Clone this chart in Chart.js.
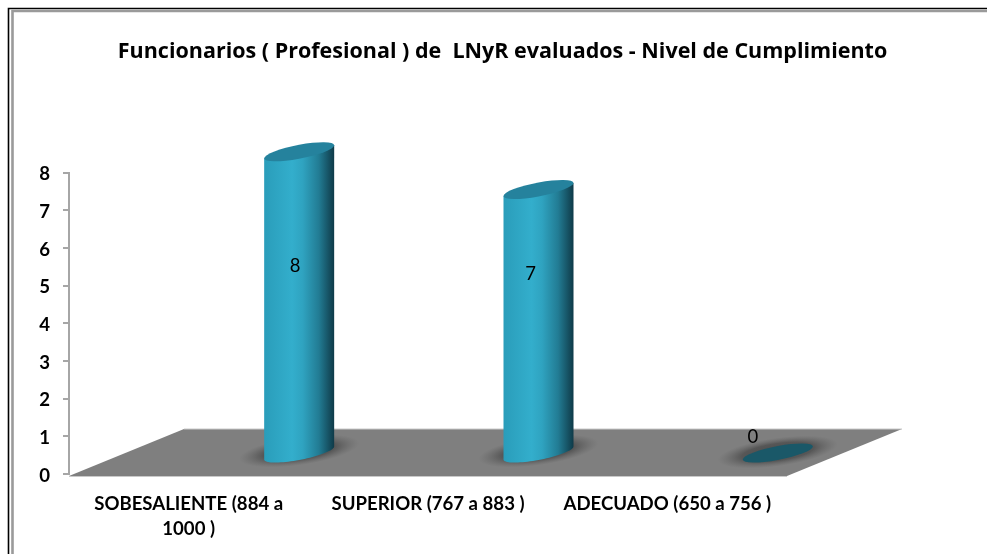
<!DOCTYPE html>
<html lang="es">
<head>
  <meta charset="UTF-8">
  <title>Funcionarios LNyR - Nivel de Cumplimiento</title>
  <script src="https://cdn.jsdelivr.net/npm/chart.js"></script>
  <style>
    html, body { margin: 0; padding: 0; background: #fff; overflow: hidden; }
    #wrap { width: 987px; height: 554px; }
  </style>
</head>
<body>
<div id="wrap"><canvas id="chart"></canvas></div>
<script>
const titleText = 'Funcionarios ( Profesional ) de  LNyR evaluados - Nivel de Cumplimiento';
const categories = [['SOBESALIENTE (884 a', '1000 )'], 'SUPERIOR (767 a 883 )', 'ADECUADO (650 a 756 )'];
const values = [8, 7, 0];
const yTicks = [0, 1, 2, 3, 4, 5, 6, 7, 8];

// 3D look: how far the floor and the bars are pushed back from the front plane
const FLOOR_DX = 115, FLOOR_DY = -46;
const BAR_DX = 110.5, BAR_DY = -20;
const BAR_RX = 35, BAR_RY = 7, SHEAR = 0.186;
const labelNudge = [[-4, -37], [-8, -48], [-25, -17]];

const fontFamily = 'Lato, "Open Sans", sans-serif';

// ellipse leaning up to the right, like the caps of the cylinders
function shearAt(ctx, x, y) {
  ctx.transform(1, -SHEAR, 0, 1, x, y);
}

function drawFrame(ctx, w, h) {
  ctx.save();
  ctx.strokeStyle = '#000';
  ctx.lineWidth = 1.6;
  ctx.beginPath();
  ctx.moveTo(8.5, h);
  ctx.lineTo(8.5, 8.5);
  ctx.lineTo(w, 8.5);
  ctx.stroke();
  ctx.strokeStyle = '#9a9a9a';
  ctx.lineWidth = 2.6;
  ctx.beginPath();
  ctx.moveTo(12.5, h);
  ctx.lineTo(12.5, 11);
  ctx.lineTo(w, 11);
  ctx.stroke();
  ctx.restore();
}

function drawFloor(ctx, area) {
  const y0 = area.bottom + 2;
  ctx.save();
  ctx.fillStyle = '#7f7f7f';
  ctx.beginPath();
  ctx.moveTo(area.left, y0);
  ctx.lineTo(area.left + FLOOR_DX, y0 + FLOOR_DY - 1);
  ctx.lineTo(area.right + FLOOR_DX, y0 + FLOOR_DY - 1);
  ctx.lineTo(area.right, y0);
  ctx.closePath();
  ctx.fill();
  ctx.strokeStyle = '#c9c9c9';
  ctx.lineWidth = 1;
  ctx.beginPath();
  ctx.moveTo(area.left, y0 + 0.5);
  ctx.lineTo(area.right, y0 + 0.5);
  ctx.moveTo(area.left + FLOOR_DX, y0 + FLOOR_DY - 1);
  ctx.lineTo(area.right + FLOOR_DX, y0 + FLOOR_DY - 1);
  ctx.stroke();
  ctx.restore();
}

function drawShadow(ctx, x, y) {
  ctx.save();
  ctx.translate(x, y);
  ctx.transform(1, -SHEAR * 0.7, 0, 0.24, 0, 0);
  const g = ctx.createRadialGradient(0, 0, 0, 0, 0, 60);
  g.addColorStop(0, 'rgba(60,60,60,0.8)');
  g.addColorStop(0.6, 'rgba(65,65,65,0.65)');
  g.addColorStop(1, 'rgba(90,90,90,0)');
  ctx.fillStyle = g;
  ctx.beginPath();
  ctx.arc(0, 0, 60, 0, Math.PI * 2);
  ctx.fill();
  ctx.restore();
}

function drawFlatCap(ctx, x, y) {
  ctx.save();
  shearAt(ctx, x, y);
  ctx.fillStyle = '#1a5868';
  ctx.beginPath();
  ctx.ellipse(0, 0, BAR_RX, BAR_RY, 0, 0, Math.PI * 2);
  ctx.fill();
  ctx.restore();
}

function drawCylinder(ctx, x, topY, baseY) {
  ctx.save();
  const g = ctx.createLinearGradient(x - BAR_RX, 0, x + BAR_RX, 0);
  g.addColorStop(0, '#2a9dba');
  g.addColorStop(0.4, '#33aecc');
  g.addColorStop(0.55, '#2fa3c0');
  g.addColorStop(0.78, '#227c94');
  g.addColorStop(1, '#0f3a48');
  ctx.fillStyle = g;
  ctx.beginPath();
  ctx.moveTo(x - BAR_RX, topY + SHEAR * BAR_RX);
  ctx.lineTo(x - BAR_RX, baseY + SHEAR * BAR_RX);
  // lower half of the base, as a short run of the sheared ellipse
  for (let a = Math.PI; a >= 0; a -= Math.PI / 40) {
    const ex = Math.cos(a) * BAR_RX;
    const ey = Math.sin(a) * BAR_RY;
    ctx.lineTo(x + ex, baseY + ey - SHEAR * ex);
  }
  ctx.lineTo(x + BAR_RX, topY - SHEAR * BAR_RX);
  ctx.closePath();
  ctx.fill();
  shearAt(ctx, x, topY);
  ctx.fillStyle = '#25829d';
  ctx.beginPath();
  ctx.ellipse(0, 0, BAR_RX, BAR_RY, 0, 0, Math.PI * 2);
  ctx.fill();
  ctx.restore();
}

const cylinders = {
  id: 'cylinders',
  afterLayout(chart) {
    // title sits centred on the frame, not on the plot
    chart.titleBlock.left = 18;
    chart.titleBlock.right = chart.width;
  },
  beforeDatasetsDraw(chart) {
    drawFrame(chart.ctx, chart.width, chart.height);
    drawFloor(chart.ctx, chart.chartArea);
  },
  afterDatasetsDraw(chart) {
    const ctx = chart.ctx;
    const meta = chart.getDatasetMeta(0);
    meta.data.forEach((bar) => {
      drawShadow(ctx, bar.x + BAR_DX, bar.base + BAR_DY - 2);
    });
    meta.data.forEach((bar, i) => {
      if (values[i] === 0) drawFlatCap(ctx, bar.x + BAR_DX, bar.base + BAR_DY - 1);
      else drawCylinder(ctx, bar.x + BAR_DX, bar.y + BAR_DY - 1, bar.base + BAR_DY);
    });
    ctx.save();
    ctx.fillStyle = '#000';
    ctx.font = '18.5px ' + fontFamily;
    ctx.textAlign = 'center';
    ctx.textBaseline = 'middle';
    meta.data.forEach((bar, i) => {
      const midY = (bar.y + bar.base) / 2 + BAR_DY;
      ctx.fillText(String(values[i]), bar.x + BAR_DX + labelNudge[i][0], midY + labelNudge[i][1]);
    });
    ctx.restore();
  }
};

new Chart(document.getElementById('chart'), {
  type: 'bar',
  data: {
    labels: categories,
    datasets: [{ data: values, backgroundColor: 'rgba(0,0,0,0)', barPercentage: 0.3 }]
  },
  options: {
    responsive: true,
    maintainAspectRatio: false,
    animation: false,
    layout: { padding: { left: 0, right: 200, top: 0, bottom: 0 } },
    plugins: {
      legend: { display: false },
      tooltip: { enabled: false },
      title: {
        display: true,
        text: titleText,
        color: '#000',
        font: { family: '"Open Sans", Lato, sans-serif', size: 21.5, weight: 'bold' },
        padding: { top: 39, bottom: 108 }
      }
    },
    scales: {
      x: {
        grid: { display: false },
        border: { display: false },
        afterFit(scale) { scale.height = 80; },
        ticks: {
          color: '#000',
          autoSkip: false,
          maxRotation: 0,
          padding: 9,
          font: { family: fontFamily, size: 18.6, weight: 'bold', lineHeight: 1.35 }
        }
      },
      y: {
        min: 0,
        max: 8,
        grid: { drawOnChartArea: false, color: '#a6a6a6', tickLength: 6, lineWidth: 2 },
        border: { color: '#a6a6a6', width: 2 },
        afterFit(scale) { scale.width = 69; },
        afterBuildTicks(scale) { scale.ticks = yTicks.map(v => ({ value: v })); },
        ticks: {
          color: '#000',
          padding: 13,
          labelOffset: 1.5,
          font: { family: fontFamily, size: 18.6, weight: 'bold' }
        }
      }
    }
  },
  plugins: [cylinders]
});
</script>
</body>
</html>
